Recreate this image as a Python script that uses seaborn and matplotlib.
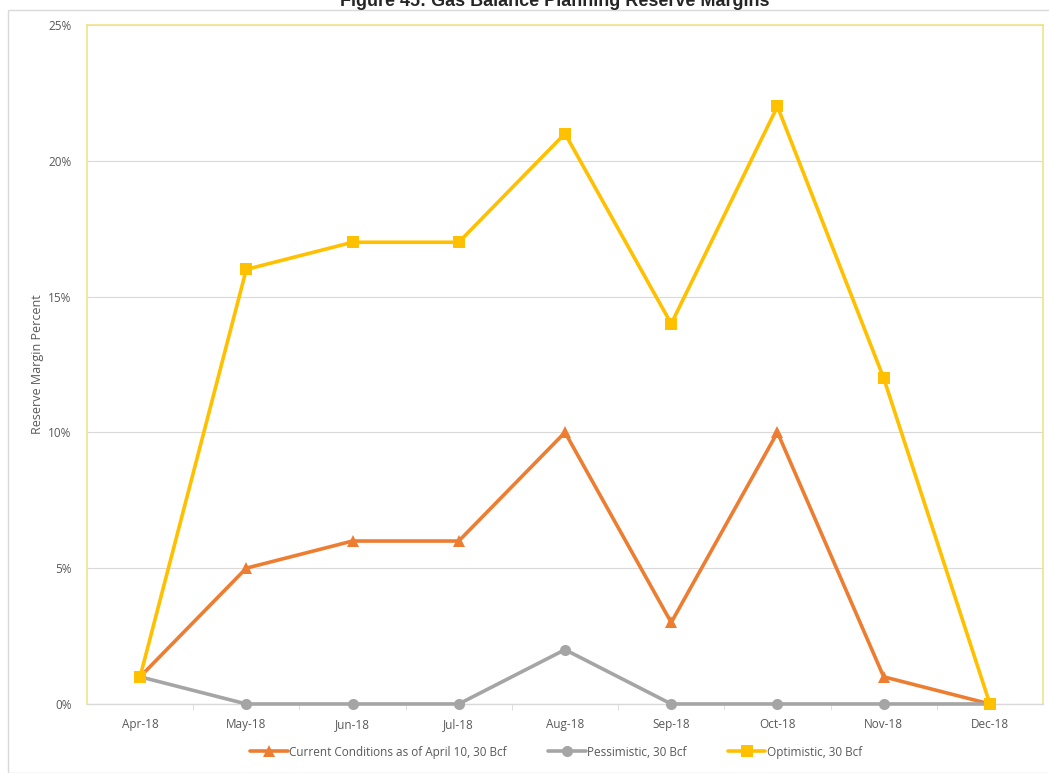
"""
Gas balance planning reserve margins - line chart recreation.
"""

import matplotlib
matplotlib.use('Agg')
import matplotlib.pyplot as plt
from matplotlib.patches import Rectangle
from matplotlib.ticker import FuncFormatter, FixedLocator
import pandas as pd
import seaborn as sns

months = ['Apr-18', 'May-18', 'Jun-18', 'Jul-18', 'Aug-18',
          'Sep-18', 'Oct-18', 'Nov-18', 'Dec-18']
current = [1, 5, 6, 6, 10, 3, 10, 1, 0]
pessimistic = [1, 0, 0, 0, 2, 0, 0, 0, 0]
optimistic = [1, 16, 17, 17, 21, 14, 22, 12, 0]

series_names = ['Current Conditions as of April 10, 30 Bcf',
                'Pessimistic, 30 Bcf', 'Optimistic, 30 Bcf']
series_values = [current, pessimistic, optimistic]

COLORS = ['#ED7D31', '#A5A5A5', '#FFC000']
MARKERS = ['^', 'o', 's']

sns.set_style('white')
plt.rcParams['font.family'] = ['Open Sans', 'DejaVu Sans']

rows = []
for name, vals in zip(series_names, series_values):
    for i, v in enumerate(vals):
        rows.append({'x': i, 'month': months[i], 'value': v, 'series': name})
df = pd.DataFrame(rows)

fig = plt.figure(figsize=(10.49, 7.73), dpi=100)
ax = fig.add_axes([0.0829, 0.0893, 0.9114, 0.8784])

for name, color, marker in zip(series_names, COLORS, MARKERS):
    sub = df[df['series'] == name]
    sns.lineplot(data=sub, x='x', y='value', ax=ax, color=color, linewidth=2.6,
                 marker=marker, markersize=8, markeredgewidth=0, label=name,
                 clip_on=False, zorder=3)

ax.set_xlim(-0.5, len(months) - 0.5)
ax.set_ylim(0, 25)
ax.set_xticks(range(len(months)))
ax.set_xticklabels(months)
ax.xaxis.set_minor_locator(FixedLocator([i + 0.5 for i in range(len(months) - 1)]))
ax.set_yticks(range(0, 26, 5))
ax.yaxis.set_major_formatter(FuncFormatter(lambda v, p: f'{int(v)}%'))
ax.grid(axis='y', color='#D9D9D9', linewidth=0.8)
ax.set_axisbelow(True)

for side in ['top', 'right', 'left']:
    ax.spines[side].set_color('#EDE58A')
    ax.spines[side].set_linewidth(1.2)
ax.spines['bottom'].set_color('#D9D9D9')
ax.spines['bottom'].set_linewidth(1.0)

ax.tick_params(axis='x', which='major', length=0, pad=10, labelsize=8.5, labelcolor='#595959')
ax.tick_params(axis='x', which='minor', length=4, color='#D9D9D9', bottom=True)
ax.tick_params(axis='y', length=0, pad=11, labelsize=8.5, labelcolor='#595959')

ax.set_xlabel('')
ax.set_ylabel('Reserve Margin Percent', fontsize=9, color='#595959', labelpad=3)

ax.legend_.remove()
handles, labels = ax.get_legend_handles_labels()
fig.legend(handles, labels, loc='center', bbox_to_anchor=(0.53, 0.027), ncol=3,
           frameon=False, fontsize=8.5, handlelength=3.2, handletextpad=0.1,
           columnspacing=3.5, labelcolor='#595959')

# outer chart border
fig.patches.append(Rectangle((8 / 1049, 0), 1.0, 1 - 10 / 773, transform=fig.transFigure,
                             fill=False, edgecolor='#D9D9D9', linewidth=1.0, zorder=0))

# title sits partly above the top edge, as in the source image
fig.text(0.529, 1 - 6 / 773, 'Figure 45: Gas Balance Planning Reserve Margins',
         ha='center', va='baseline', fontsize=13, fontweight='bold',
         family='Liberation Sans')

fig.savefig('out.png', dpi=100)
